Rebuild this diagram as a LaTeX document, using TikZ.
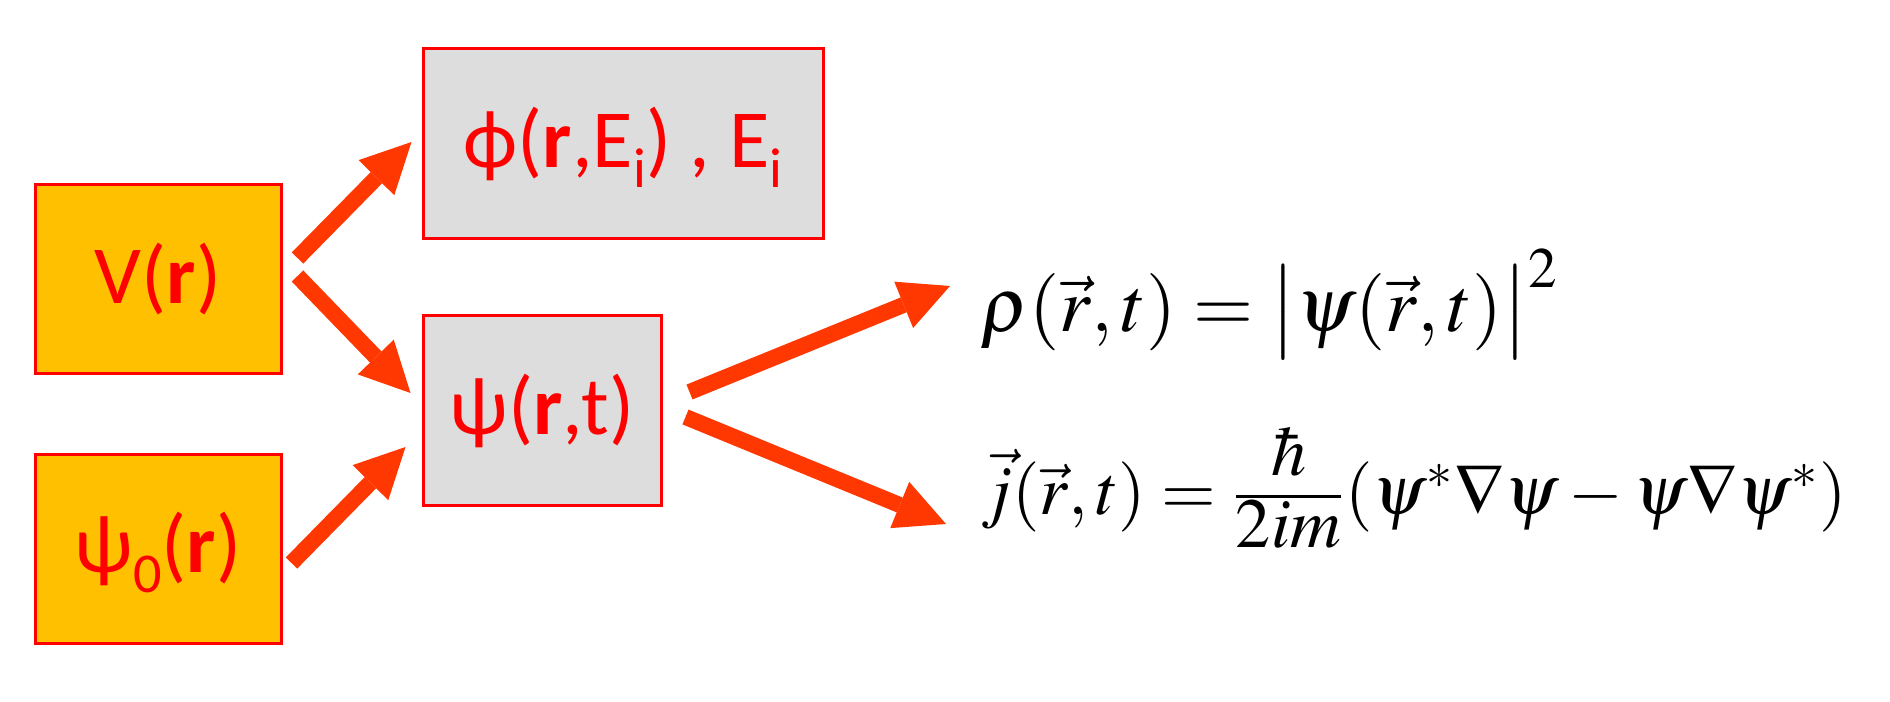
\documentclass[tikz,border=0pt]{standalone}
\usepackage{mathptmx}
\usepackage[no-math]{fontspec}
\setmainfont{Liberation Serif}
\newfontfamily\boksfont{Carlito}
\usetikzlibrary{arrows.meta}
\definecolor{pilrod}{RGB}{255,55,0}
\definecolor{boksgul}{RGB}{255,192,0}
\definecolor{boksgra}{RGB}{221,221,221}
\newcommand{\lavidx}[1]{\raisebox{-0.2cm}[0pt][0pt]{\fontsize{16}{16}\selectfont #1}}
\begin{document}
\begin{tikzpicture}[
  boks/.style={draw=red, line width=0.03cm, inner sep=0pt, minimum height=1.89cm, text=red, font=\boksfont\fontsize{23.5}{28}\selectfont},
  pil/.style={line width=0.16cm, pilrod, -{Triangle[length=0.5cm,width=0.5cm,line width=0pt]}},
  formel/.style={anchor=west, inner sep=0pt}]
  \useasboundingbox (0,0) rectangle (18.9,7.01); %ramme
  \node[boks, fill=boksgul, minimum width=2.46cm] (V) at (1.58,4.215) {V(\textbf{r})}; %potentiale
  \node[boks, fill=boksgul, minimum width=2.46cm] (psi0) at (1.58,1.525) {ψ\lavidx{0}(\textbf{r})}; %startbetingelse
  \node[boks, fill=boksgra, minimum width=4.00cm, minimum height=1.90cm] (phi) at (6.23,5.57) {ϕ(\textbf{r},E\lavidx{i}) , E\lavidx{i}}; %egentilstande
  \node[boks, fill=boksgra, minimum width=2.38cm] (psi) at (5.42,2.905) {ψ(\textbf{r},t)}; %bølgefunktion
  \node[formel, font=\fontsize{22}{26}\selectfont] (rho) at (9.80,3.97) {$\rho(\vec r,t)=\bigl|\psi(\vec r,t)\bigr|^{2}$}; %tæthed
  \node[formel, font=\fontsize{20}{24}\selectfont] (j) at (9.80,2.13) {$\vec{j}(\vec r,t)=\frac{\raisebox{0.15em}{$\displaystyle\hbar$}}{\raisebox{-0.03em}{$\displaystyle 2im$}}(\psi^{*}\nabla\psi-\psi\nabla\psi^{*})$}; %strøm
  \draw[pil] ([shift={(0.15,0.215)}]V.east) -- ([shift={(-0.10,0.02)}]phi.west);
  \draw[pil] ([shift={(0.15,0.035)}]V.east) -- ([shift={(-0.11,0.175)}]psi.west);
  \draw[pil] ([shift={(0.09,-0.145)}]psi0.east) -- ([shift={(-0.16,-0.365)}]psi.west);
  \draw[pil] ([shift={(0.27,0.185)}]psi.east) -- ([shift={(-0.30,0.18)}]rho.west);
  \draw[pil] ([shift={(0.23,-0.065)}]psi.east) -- ([shift={(-0.34,-0.36)}]j.west);
\end{tikzpicture}
\end{document}
